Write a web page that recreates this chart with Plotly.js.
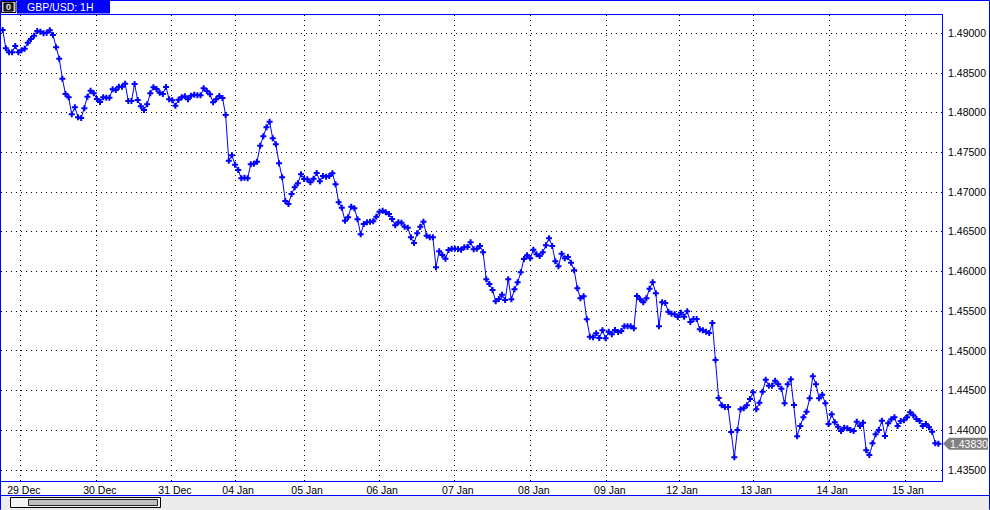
<!DOCTYPE html>
<html>
<head>
<meta charset="utf-8">
<script src="https://cdn.plot.ly/plotly-3.0.1.min.js"></script>
<style>
html,body{margin:0;padding:0;background:#fff;}
#chart{width:990px;height:510px;}
</style>
</head>
<body>
<div id="chart"></div>
<script>
// GBP/USD hourly closes (in bar order)
const closes29to30Dec = [1.49042,1.48811,1.48761,1.48761,1.48840,1.48761,1.48786,1.48806,1.48882,1.48928,1.48970,1.49029,1.49020,1.49000,1.49008,1.49038,1.48979,1.48824,1.48680,1.48428,1.48236,1.48194,1.47980,1.48068,1.47942,1.47933,1.48055,1.48202,1.48277,1.48244,1.48173,1.48135,1.48194,1.48189,1.48189,1.48295,1.48286,1.48327,1.48327,1.48365,1.48147,1.48147,1.48361,1.48160,1.48081,1.48034,1.48106,1.48244];
const closes31Dec05Jan = [1.48320,1.48299,1.48252,1.48236,1.48324,1.48169,1.48156,1.48088,1.48164,1.48194,1.48207,1.48169,1.48214,1.48227,1.48219,1.48219,1.48307,1.48273,1.48232,1.48131,1.48169,1.48210,1.48185,1.47971,1.47396,1.47464,1.47345,1.47278,1.47174,1.47181,1.47174,1.47350,1.47358,1.47383,1.47584,1.47703,1.47816,1.47887,1.47678,1.47602,1.47363,1.47186,1.46888,1.46850,1.46976,1.47061,1.47111];
const closes05to07Jan = [1.47224,1.47165,1.47161,1.47124,1.47169,1.47241,1.47136,1.47203,1.47194,1.47203,1.47237,1.47098,1.46872,1.46804,1.46640,1.46683,1.46816,1.46796,1.46658,1.46469,1.46598,1.46620,1.46627,1.46632,1.46690,1.46753,1.46766,1.46746,1.46724,1.46661,1.46582,1.46620,1.46615,1.46564,1.46552,1.46431,1.46359,1.46481,1.46564,1.46627,1.46451,1.46431,1.46431,1.46053,1.46255,1.46208,1.46161,1.46271];
const closes07to09Jan = [1.46287,1.46287,1.46284,1.46275,1.46305,1.46309,1.46368,1.46280,1.46287,1.46321,1.46242,1.45902,1.45843,1.45767,1.45625,1.45654,1.45708,1.45641,1.45902,1.45650,1.45776,1.45864,1.45990,1.46158,1.46204,1.46166,1.46275,1.46217,1.46195,1.46242,1.46330,1.46418,1.46321,1.46129,1.46066,1.46224,1.46166,1.46183,1.46111,1.46015,1.45789,1.45663,1.45688,1.45398,1.45179,1.45171,1.45222,1.45163];
const closes09to13Jan = [1.45260,1.45159,1.45242,1.45209,1.45263,1.45238,1.45251,1.45310,1.45310,1.45310,1.45285,1.45692,1.45650,1.45612,1.45663,1.45784,1.45864,1.45726,1.45310,1.45612,1.45603,1.45494,1.45469,1.45461,1.45427,1.45481,1.45431,1.45499,1.45364,1.45402,1.45402,1.45272,1.45260,1.45242,1.45226,1.45352,1.44886,1.44407,1.44315,1.44294,1.44294,1.43979,1.43660,1.44004,1.44265,1.44277,1.44315];
const closes13to15Jan = [1.44394,1.44479,1.44265,1.44348,1.44486,1.44637,1.44562,1.44562,1.44625,1.44580,1.44524,1.44340,1.44580,1.44642,1.44319,1.43925,1.44054,1.44164,1.44234,1.44403,1.44680,1.44580,1.44403,1.44449,1.44340,1.44080,1.44202,1.44101,1.44046,1.43991,1.44033,1.44025,1.44004,1.43991,1.44109,1.44054,1.44096,1.43748,1.43689,1.43836,1.43950,1.44004,1.44121,1.43928,1.44088,1.44139,1.44164,1.44054,1.44117,1.44126,1.44164,1.44227,1.44189,1.44143,1.44117,1.44054,1.44080,1.44038,1.43983,1.43836,1.43830];

// day separators (bar positions) and their labels
const dayTickBars = [5.8, 30.0, 53.9, 74.0, 96.0, 119.9, 144.0, 168.2, 192.4, 215.4, 239.0, 263.2, 287.4];
const dayTickLabels = ['29 Dec','30 Dec','31 Dec','04 Jan','05 Jan','06 Jan','07 Jan','08 Jan','09 Jan','12 Jan','13 Jan','14 Jan','15 Jan'];
const chartTitle = 'GBP/USD: 1H';

const closes = [].concat(closes29to30Dec, closes31Dec05Jan, closes05to07Jan, closes07to09Jan, closes09to13Jan, closes13to15Jan);
const bars = closes.map((_, i) => i);
const lastClose = closes[closes.length - 1];

// pixel -> paper helpers for window decorations
const W = 990, H = 510, ML = 1, MR = 48, MT = 15, MB = 29;
const PW = W - ML - MR, PH = H - MT - MB;
const px = x => (x - ML) / PW;
const py = y => (H - MB - y) / PH;
const BLUE = '#0000ff';
const yUnit = 1 / 7940; // price per pixel

const font = {family: 'Liberation Sans, Arial, sans-serif', size: 10.5, color: '#000'};

const shapes = [
  // outer window frame
  {type:'rect', xref:'paper', yref:'paper', x0:px(0.5), x1:px(989.5), y0:py(509.5), y1:py(0.5), line:{color:BLUE, width:1}, fillcolor:'rgba(0,0,0,0)'},
  // title bar icon
  {type:'rect', xref:'paper', yref:'paper', x0:px(1.5), x1:px(16), y0:py(12.5), y1:py(1.5), line:{color:'#000', width:1}, fillcolor:'#d4d0c8'},
  {type:'rect', xref:'paper', yref:'paper', x0:px(4), x1:px(13), y0:py(11), y1:py(3), line:{color:'#000', width:1}, fillcolor:'#202020'},
  // title bar
  {type:'rect', xref:'paper', yref:'paper', x0:px(17), x1:px(110), y0:py(13.5), y1:py(0), line:{width:0}, fillcolor:BLUE},
  // bottom panel
  {type:'rect', xref:'paper', yref:'paper', x0:px(1), x1:px(989), y0:py(510), y1:py(495.5), line:{width:0}, fillcolor:'#ececec'},
  {type:'line', xref:'paper', yref:'paper', x0:px(0), x1:px(990), y0:py(495.5), y1:py(495.5), line:{color:BLUE, width:1}},
  // scrollbar
  {type:'rect', xref:'paper', yref:'paper', x0:px(10.5), x1:px(160.5), y0:py(507.5), y1:py(497.5), line:{color:'#000', width:1}, fillcolor:'#f4f4f4'},
  {type:'rect', xref:'paper', yref:'paper', x0:px(28.5), x1:px(157.5), y0:py(505.5), y1:py(499.5), line:{color:'#222', width:1}, fillcolor:'#c0c0c0'},
  // last price tag
  {type:'path', xref:'paper', yref:'y',
   path:`M ${px(943)},${lastClose} L ${px(949)},${lastClose + 6*yUnit} L ${px(988)},${lastClose + 6*yUnit} L ${px(988)},${lastClose - 6*yUnit} L ${px(949)},${lastClose - 6*yUnit} Z`,
   line:{width:0}, fillcolor:'#808080'}
];

const annotations = [
  {xref:'paper', yref:'paper', x:px(25), y:py(7), xanchor:'left', yanchor:'middle', text:chartTitle, showarrow:false, font:{family:font.family, size:10.5, color:'#fff'}},
  {xref:'paper', yref:'paper', x:px(8.5), y:py(7), xanchor:'center', yanchor:'middle', text:'<b>0</b>', showarrow:false, font:{family:font.family, size:9, color:'#e0e0e0'}},
  {xref:'paper', yref:'y', x:px(948), y:lastClose, xanchor:'left', yanchor:'middle', text:lastClose.toFixed(5), showarrow:false, font:{family:font.family, size:10.5, color:'#fff'}}
];

const trace = {
  x: bars, y: closes, type: 'scatter', mode: 'lines+markers',
  line: {color: BLUE, width: 1},
  marker: {symbol: 'cross', size: 5, color: BLUE, line: {width: 0}},
  hoverinfo: 'skip'
};

const layout = {
  width: W, height: H,
  margin: {l: ML, r: MR, t: MT, b: MB, pad: 0},
  paper_bgcolor: '#fff', plot_bgcolor: '#fff',
  showlegend: false,
  font: font,
  xaxis: {
    range: [-0.54, 299.14],
    tickmode: 'array', tickvals: dayTickBars, ticktext: dayTickLabels,
    ticks: '', showgrid: true, gridcolor: '#000', gridwidth: 1, griddash: '1px,4px',
    showline: true, mirror: true, linecolor: BLUE, linewidth: 1,
    zeroline: false, tickfont: {family: font.family, size: 10.5, color: '#000'},
    ticklabelstandoff: -1, ticklabelshift: 3, fixedrange: true
  },
  yaxis: {
    side: 'right',
    range: [1.433615, 1.492305],
    tick0: 1.435, dtick: 0.005, tickformat: '.5f',
    ticks: '', showgrid: true, gridcolor: '#000', gridwidth: 1, griddash: '1px,4px',
    showline: true, mirror: true, linecolor: BLUE, linewidth: 1,
    zeroline: false, tickfont: {family: font.family, size: 10.5, color: '#000'},
    ticklabelstandoff: 3, fixedrange: true
  },
  shapes: shapes,
  annotations: annotations
};

Plotly.newPlot('chart', [trace], layout, {staticPlot: true, displayModeBar: false});
</script>
</body>
</html>
